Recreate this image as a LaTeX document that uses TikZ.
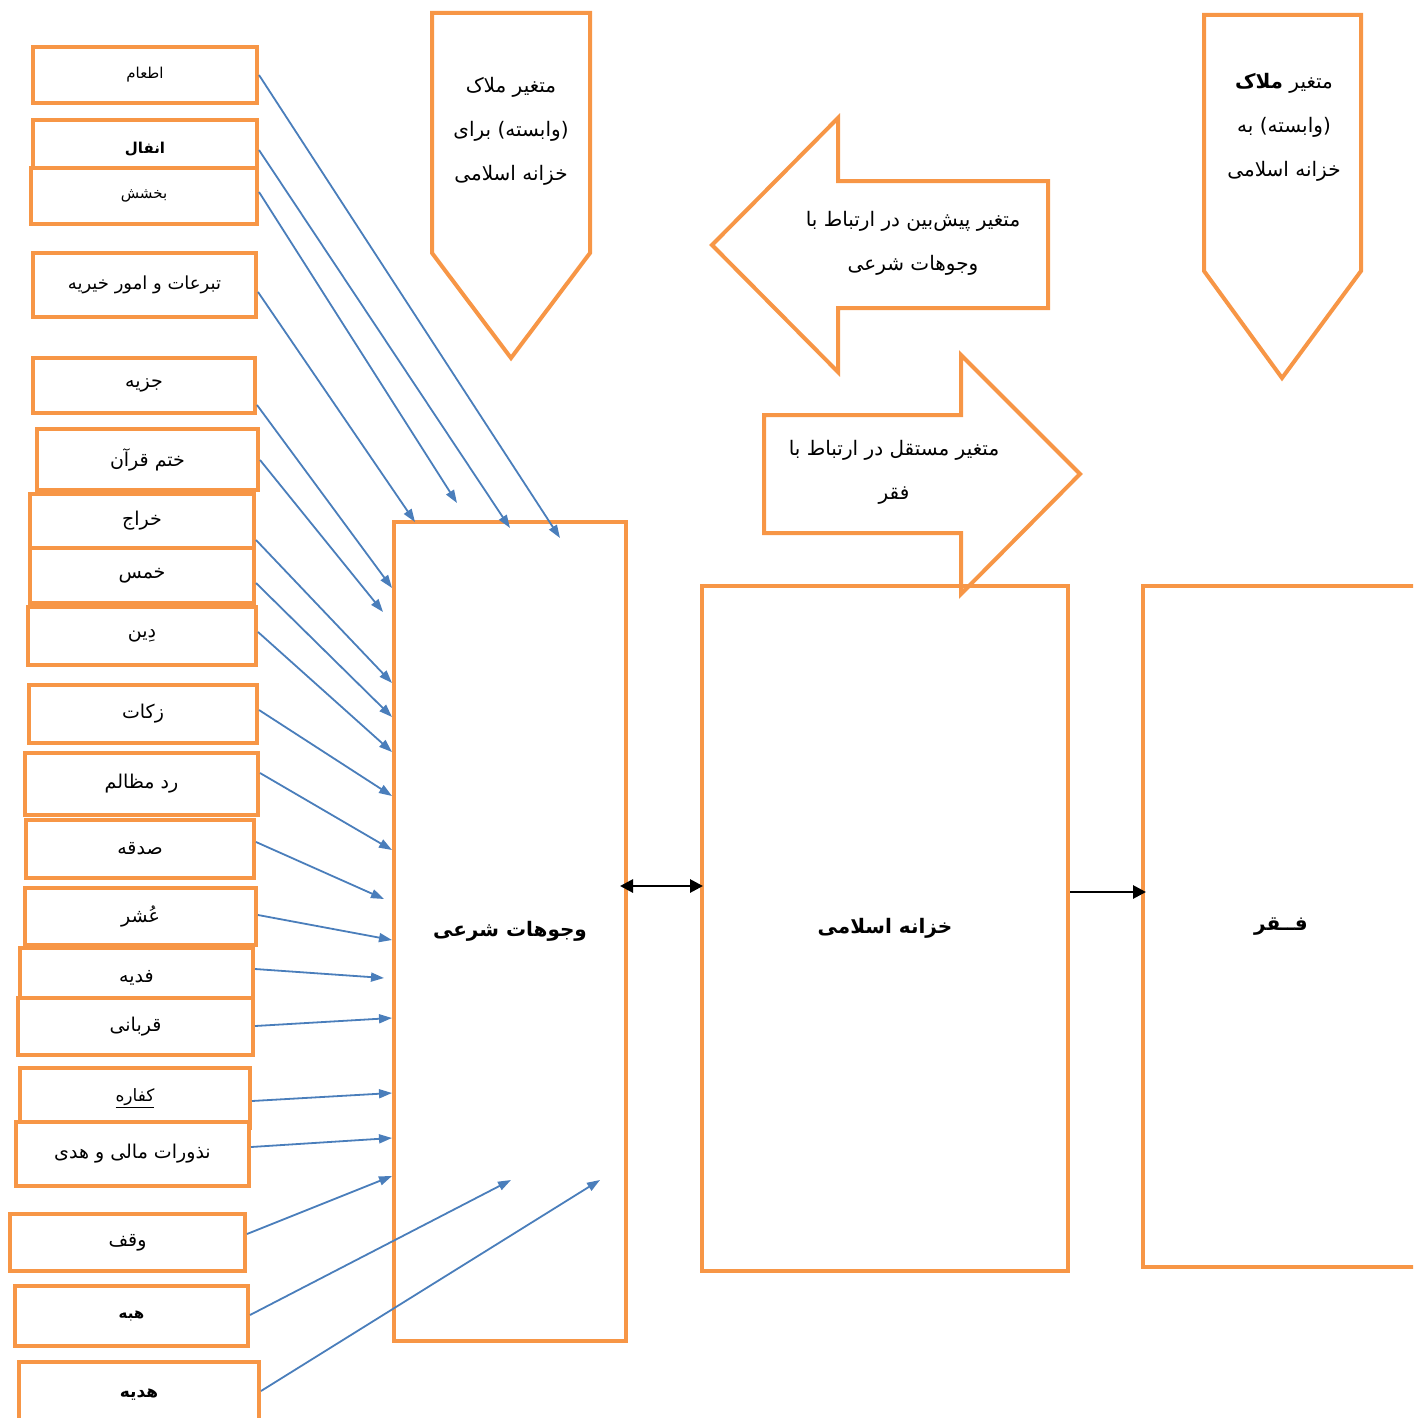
\documentclass[tikz,border=0pt]{standalone}
\usepackage{fontspec}
\usetikzlibrary{arrows.meta}
\newfontfamily\arabicfont[Script=Arabic]{DejaVu Sans}
\TeXXeTstate=1
\definecolor{boxorange}{HTML}{F79646}
\definecolor{linkblue}{HTML}{4A7EBB}
\newcommand{\fa}[1]{\beginR #1\endR}

\begin{document}
\begin{tikzpicture}[x=1pt,y=-1pt]
\tikzstyle{every node}=[font=\arabicfont\fontsize{19}{22}\selectfont]
\tikzstyle{item}=[draw=boxorange,line width=4pt,fill=white,inner sep=0pt]
\tikzstyle{small}=[font=\arabicfont\fontsize{15}{18}\selectfont]
\tikzstyle{block}=[draw=boxorange,line width=4pt,inner sep=0pt,font=\arabicfont\bfseries\fontsize{20}{24}\selectfont]
\tikzstyle{banner}=[draw=boxorange,line width=4pt,line join=miter]
\tikzstyle{caption}=[align=center,font=\arabicfont\fontsize{20}{44}\selectfont]
\tikzstyle{feed}=[draw=linkblue,line width=1.8pt,-{Triangle[length=13pt,width=9pt]}]
\tikzstyle{link}=[draw=black,line width=2.8pt,-{Triangle[length=13pt,width=13pt]}]
\clip (0,0) rectangle (1413,1418);

\draw[banner] (432,13) -- (590,13) -- (590,253) -- (511,358) -- (432,253) -- cycle;
\node[caption] (dep1) at (511,131) {\fa{متغیر ملاک}\\\fa{(وابسته) برای}\\\fa{خزانه اسلامی}};
\draw[banner] (1204,15) -- (1361,15) -- (1361,271) -- (1282,378) -- (1204,271) -- cycle;
\node[caption] (dep2) at (1284,127) {\fa{متغیر \textbf{ملاک}}\\\fa{(وابسته) به}\\\fa{خزانه اسلامی}};
\draw[banner] (712,245) -- (838,118) -- (838,181) -- (1048,181) -- (1048,308) -- (838,308) -- (838,372) -- cycle;
\node[caption] (pred) at (913,243) {\fa{متغیر پیش‌بین در ارتباط با}\\\fa{وجوهات شرعی}};
\draw[banner] (1080,474) -- (961,355) -- (961,415) -- (764,415) -- (764,533) -- (961,533) -- (961,594) -- cycle;
\node[caption] (indep) at (894,472) {\fa{متغیر مستقل در ارتباط با}\\\fa{فقر}};

\node[block,minimum width=232pt,minimum height=819pt] (vj) at (510,931.5) {\fa{وجوهات شرعی}};
\node[block,minimum width=366pt,minimum height=685pt] (kh) at (885,928.5) {\fa{خزانه اسلامی}};
\node[block,minimum width=276pt,minimum height=681pt] (fq) at (1281,926.5) {\fa{فــقر}};

\node[item,small,minimum width=224pt,minimum height=56pt] (b1) at (145,75) {\fa{اطعام}};
\node[item,small,minimum width=224pt,minimum height=58pt] (b2) at (145,149) {\bfseries\fa{انفال}};
\node[item,small,minimum width=226pt,minimum height=56pt] (b3) at (144,196) {\fa{بخشش}};
\node[item,minimum width=223pt,minimum height=64pt,font=\arabicfont\fontsize{18}{21}\selectfont] (b4) at (144.5,285) {\fa{تبرعات و امور خیریه}};
\node[item,minimum width=222pt,minimum height=55pt] (b5) at (144,385) {\fa{جزیه}};
\node[item,minimum width=221pt,minimum height=61pt] (b6) at (147.5,459.5) {\fa{ختم قرآن}};
\node[item,minimum width=224pt,minimum height=54pt] (b7) at (142,521) {\fa{خراج}};
\node[item,minimum width=224pt,minimum height=55pt] (b8) at (142,575.5) {\fa{خمس}};
\node[item,minimum width=228pt,minimum height=58pt] (b9) at (142,636) {\fa{دِین}};
\node[item,minimum width=228pt,minimum height=58pt] (b10) at (143,714) {\fa{زکات}};
\node[item,minimum width=233pt,minimum height=62pt] (b11) at (141.5,784) {\fa{رد مظالم}};
\node[item,minimum width=228pt,minimum height=58pt] (b12) at (140,849) {\fa{صدقه}};
\node[item,minimum width=231pt,minimum height=57pt] (b13) at (140.5,916.5) {\fa{عُشر}};
\node[item,minimum width=233pt,minimum height=60pt] (b14) at (136.5,978) {\fa{فدیه}};
\node[item,minimum width=235pt,minimum height=57pt] (b15) at (135.5,1026.5) {\fa{قربانی}};
\node[item,minimum width=230pt,minimum height=60pt,font=\arabicfont\fontsize{17}{20}\selectfont] (b16) at (135,1098) {\underline{\fa{کفاره}}};
\node[item,minimum width=233pt,minimum height=64pt] (b17) at (132.5,1154) {\fa{نذورات مالی و هدی}};
\node[item,minimum width=235pt,minimum height=57pt] (b18) at (127.5,1242.5) {\fa{وقف}};
\node[item,small,minimum width=233pt,minimum height=60pt] (b19) at (131.5,1316) {\bfseries\fa{هبه}};
\node[item,minimum width=240pt,minimum height=66pt,font=\arabicfont\fontsize{17}{20}\selectfont] (b20) at (139,1395) {\bfseries\fa{هدیه}};

\foreach \n/\sy/\tx/\ty in {1/75/560/538, 2/150/510/528, 3/192/457/503, 4/292/415/522,
  5/405/392/588, 6/460/383/612, 7/540/392/683, 8/583/392/717, 9/632/392/752,
  10/710/392/796, 11/773/392/850, 12/842/384/899, 13/915/392/940, 14/969/384/978,
  15/1026/392/1018, 16/1101/392/1093, 17/1147/392/1138, 18/1234/392/1176,
  19/1315/511/1180, 20/1391/600/1180}
{
  \coordinate (t\n) at (\tx,\ty);
  \draw[feed] (b\n.east |- 0,\sy) -- (t\n);
}

\draw[link,{Triangle[length=13pt,width=13pt]}-{Triangle[length=13pt,width=13pt]},shorten <=-8pt,shorten >=-3pt] (vj.east |- 0,886) -- (kh.west |- 0,886);
\draw[link,shorten >=-5pt] (kh.east |- 0,892) -- (fq.west |- 0,892);
\end{tikzpicture}
\end{document}
